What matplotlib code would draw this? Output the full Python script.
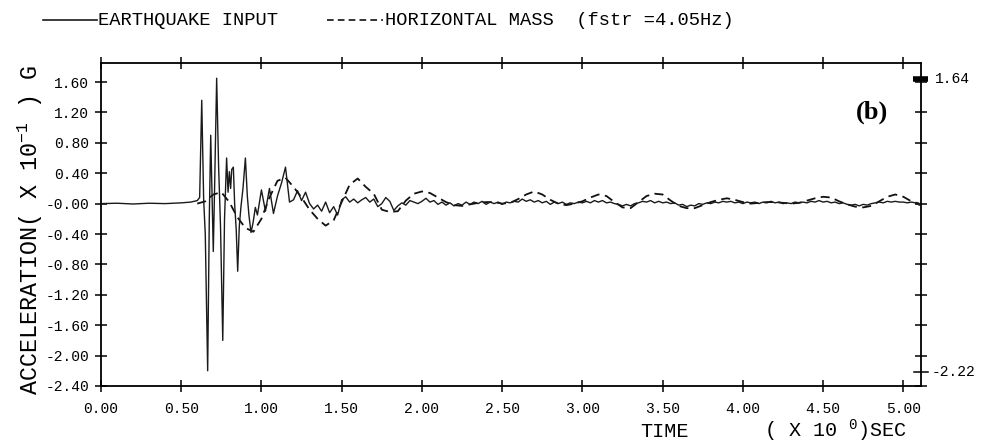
import numpy as np
import matplotlib
matplotlib.use('Agg')
import matplotlib.pyplot as plt
import matplotlib.transforms as mtransforms

plt.rcParams['font.family'] = ['Liberation Mono', 'DejaVu Sans Mono']
plt.rcParams['mathtext.fontset'] = 'custom'
plt.rcParams['mathtext.rm'] = 'Liberation Mono'
plt.rcParams['mathtext.it'] = 'Liberation Mono'

# ─────────────────────────────────────────
# data
# ─────────────────────────────────────────
# earthquake input, strong-motion part (irregular samples)
EQ_T_EARLY = [0.00, 0.10, 0.20, 0.30, 0.40, 0.50, 0.56, 0.60, 0.615, 0.628,
              0.640, 0.650, 0.665, 0.675, 0.684, 0.692, 0.700, 0.708, 0.721, 0.733,
              0.745, 0.759, 0.770, 0.783, 0.792, 0.800, 0.808, 0.815, 0.825, 0.833,
              0.843, 0.852, 0.862, 0.872, 0.885, 0.900, 0.912, 0.922, 0.935, 0.948,
              0.962, 0.975]
EQ_V_EARLY = [0.00, 0.005, -0.005, 0.005, 0.00, 0.01, 0.02, 0.04, 0.08, 1.36,
              0.05, -0.40, -2.20, -0.20, 0.90, 0.15, -0.63, 0.20, 1.65, 0.50,
              -0.30, -1.80, -0.20, 0.60, 0.15, 0.42, 0.20, 0.45, 0.48, 0.00,
              -0.35, -0.89, -0.30, -0.05, 0.20, 0.60, 0.10, -0.15, -0.38, -0.25,
              -0.05, -0.15]

# earthquake input after 1.0 s, every 0.025 s
EQ_DT_LATE = 0.025
EQ_V_LATE = [
    0.18, -0.10, 0.20, -0.13, 0.10, 0.27, 0.48, 0.02, 0.05, 0.17,   # 1.000
    0.04, 0.15, 0.00, -0.07, -0.02, -0.10, 0.02, -0.12, -0.04, -0.15,  # 1.250
    0.05, 0.09, 0.02, 0.06, 0.01, 0.05, 0.08, 0.02, 0.06, -0.04,   # 1.500
    0.00, 0.08, 0.03, -0.09, -0.03, 0.01, -0.02, 0.04, 0.02, 0.00,  # 1.750
    0.03, 0.07, 0.02, 0.04, -0.01, 0.02, -0.02, 0.01, -0.03, 0.00,  # 2.000
    -0.02, 0.02, -0.01, 0.02, 0.00, 0.03, -0.01, 0.02, 0.00, 0.02,  # 2.250
    -0.01, 0.02, 0.01, 0.03, 0.02, 0.06, 0.03, 0.05, 0.02, 0.04,   # 2.500
    0.01, 0.03, -0.01, 0.02, 0.00, 0.02, -0.01, 0.01, 0.00, 0.02,  # 2.750
    0.01, 0.03, 0.01, 0.04, 0.02, 0.04, 0.01, 0.02, 0.00, -0.01,   # 3.000
    -0.03, -0.01, -0.03, 0.00, 0.01, 0.03, 0.02, 0.04, 0.01, 0.03,  # 3.250
    0.01, 0.02, 0.00, 0.01, -0.02, -0.01, -0.04, -0.02, -0.03, 0.00,  # 3.500
    -0.01, 0.01, 0.00, 0.02, 0.01, 0.03, 0.02, 0.03, 0.01, 0.02,   # 3.750
    0.00, 0.02, 0.01, 0.02, 0.00, 0.02, 0.01, 0.03, 0.01, 0.02,    # 4.000
    0.00, 0.01, 0.00, 0.02, 0.01, 0.02, 0.01, 0.03, 0.02, 0.04,    # 4.250
    0.02, 0.03, 0.01, 0.02, 0.00, 0.01, -0.01, -0.02, -0.01, -0.03,  # 4.500
    -0.01, -0.02, 0.00, 0.01, 0.02, 0.01, 0.03, 0.02, 0.03, 0.02,  # 4.750
    0.02, 0.01, 0.02, 0.01, -0.02,                                  # 5.000
]

# horizontal mass response, every 0.05 s from 0.60 s
MASS_T0 = 0.60
MASS_DT = 0.05
MASS_V = [
    0.00, 0.03, 0.12, 0.15, 0.02, -0.18, -0.32, -0.37, -0.20, 0.08,   # 0.60
    0.30, 0.34, 0.22, 0.08, -0.08, -0.20, -0.29, -0.22, 0.02, 0.25,   # 1.10
    0.33, 0.22, 0.13, -0.08, -0.11, -0.10, 0.04, 0.13, 0.16, 0.14,    # 1.60
    0.08, 0.02, -0.02, -0.03, -0.01, 0.01, 0.02, 0.02, 0.00, 0.01,    # 2.10
    0.06, 0.12, 0.16, 0.12, 0.05, 0.00, -0.02, 0.00, 0.03, 0.08,      # 2.60
    0.12, 0.10, 0.02, -0.05, -0.06, 0.02, 0.10, 0.13, 0.12, 0.04,     # 3.10
    -0.03, -0.06, -0.06, -0.02, 0.02, 0.05, 0.07, 0.05, 0.02, 0.00,   # 3.60
    0.01, 0.02, 0.02, 0.01, 0.00, 0.01, 0.04, 0.07, 0.09, 0.08,       # 4.10
    0.03, -0.01, -0.04, -0.05, -0.03, 0.03, 0.09, 0.12, 0.09, 0.03,   # 4.60
    0.00,                                                             # 5.10
]

Y_TICKS = [1.60, 1.20, 0.80, 0.40, 0.00, -0.40, -0.80, -1.20, -1.60, -2.00, -2.40]
Y_TICK_LABELS = ['1.60', '1.20', '0.80', '0.40', '-0.00', '-0.40', '-0.80',
                 '-1.20', '-1.60', '-2.00', '-2.40']
X_TICKS = [0.0, 0.5, 1.0, 1.5, 2.0, 2.5, 3.0, 3.5, 4.0, 4.5, 5.0]
X_TICK_LABELS = ['0.00', '0.50', '1.00', '1.50', '2.00', '2.50', '3.00',
                 '3.50', '4.00', '4.50', '5.00']
PEAK_MAX = 1.64
PEAK_MIN = -2.22

eq_t = np.concatenate([EQ_T_EARLY, 1.0 + EQ_DT_LATE * np.arange(len(EQ_V_LATE))])
eq_v = np.concatenate([EQ_V_EARLY, EQ_V_LATE])
mass_t = MASS_T0 + MASS_DT * np.arange(len(MASS_V))
mass_v = np.array(MASS_V)

# ─────────────────────────────────────────
# figure
# ─────────────────────────────────────────
fig = plt.figure(figsize=(9.85, 4.47), dpi=100)
ax = fig.add_axes([0.1025, 0.1365, 0.8325, 0.7225])

ax.plot(eq_t, eq_v, color='#1a1a1a', lw=1.0, zorder=3)
ax.plot(mass_t, mass_v, color='#111111', lw=1.3, ls=(0, (5, 3)), zorder=2)

ax.set_xlim(0, 5.11)
ax.set_ylim(-2.40, 1.85)

for s in ax.spines.values():
    s.set_linewidth(1.3)

ax.set_yticks(Y_TICKS)
ax.set_yticklabels(Y_TICK_LABELS)
ax.set_xticks(X_TICKS)
ax.set_xticklabels(X_TICK_LABELS)
ax.tick_params(axis='both', direction='inout', length=9, width=1.1,
               labelsize=10.5, top=True, right=True)
ax.tick_params(axis='x', pad=7)
ax.tick_params(axis='y', pad=4)

# peak markers on right axis
trans = mtransforms.blended_transform_factory(ax.transAxes, ax.transData)
ax.plot([0.990, 1.008], [PEAK_MAX, PEAK_MAX], color='black', lw=4,
        transform=trans, clip_on=False, solid_capstyle='butt')
ax.plot([0.992, 1.008], [PEAK_MIN, PEAK_MIN], color='black', lw=1.1,
        transform=trans, clip_on=False)
ax.text(1.017, PEAK_MAX, f'{PEAK_MAX:.2f}', transform=trans, fontsize=10.5,
        va='center', ha='left')
ax.text(1.013, PEAK_MIN, f'{PEAK_MIN:.2f}', transform=trans, fontsize=10.5,
        va='center', ha='left')

ax.text(0.940, 0.848, '(b)', transform=ax.transAxes, fontsize=19,
        fontweight='bold', family='Liberation Serif', ha='center', va='center')

# axis labels
fig.text(0.031, 0.485, 'ACCELERATION( X 10$^{-1}$ ) G', rotation=90,
         fontsize=16.8, ha='center', va='center')
fig.text(0.675, 0.022, 'TIME', fontsize=14.5, ha='center', va='baseline')
fig.text(0.776, 0.022, '( X 10 $^{0}$)SEC', fontsize=14.5, ha='left', va='baseline')

# legend strip on top
fig.add_artist(plt.Line2D([0.044, 0.098], [0.955, 0.955], color='#1a1a1a', lw=1.2))
fig.text(0.0995, 0.955, 'EARTHQUAKE INPUT', fontsize=13.5, va='center', ha='left')
fig.add_artist(plt.Line2D([0.332, 0.389], [0.955, 0.955], color='#111111', lw=1.2,
                          ls=(0, (4, 2.5))))
fig.text(0.391, 0.955, 'HORIZONTAL MASS  (fstr =4.05Hz)', fontsize=13.5,
         va='center', ha='left')

plt.savefig('out.png', dpi=100)
